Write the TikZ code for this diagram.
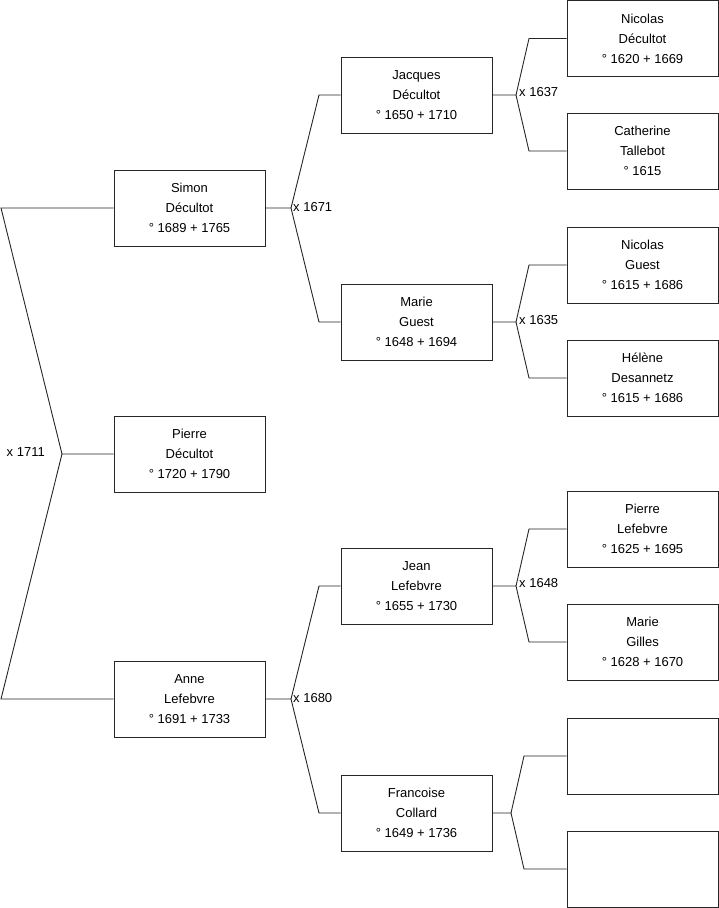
\documentclass[tikz,border=0pt]{standalone}
\usepackage{fontspec}
\setmainfont{Liberation Sans}
\begin{document}
\begin{tikzpicture}[x=1pt,y=-1pt,
  person/.style={draw=black!85, line width=0.9pt, minimum width=151pt, minimum height=76pt,
    align=center, font=\fontsize{13}{20}\selectfont, inner sep=0pt, text depth=0pt},
  link/.style={draw=black!85, line width=0.9pt},
  lab/.style={font=\fontsize{13}{15}\selectfont, inner sep=0pt}]
\useasboundingbox (0,0) rectangle (719,908);
% generation 1
\node[person] (pierre)  at (189.5,454) {Pierre\\Décultot\\° 1720 + 1790};
% generation 2
\node[person] (simon)   at (189.5,208) {Simon\\Décultot\\° 1689 + 1765};
\node[person] (anne)    at (189.5,699) {Anne\\Lefebvre\\° 1691 + 1733};
% generation 3
\node[person] (jacques) at (416.5,95)  {Jacques\\Décultot\\° 1650 + 1710};
\node[person] (marieg)  at (416.5,322) {Marie\\Guest\\° 1648 + 1694};
\node[person] (jean)    at (416.5,586) {Jean\\Lefebvre\\° 1655 + 1730};
\node[person] (francoise) at (416.5,813) {Francoise\\Collard\\° 1649 + 1736};
% generation 4
\node[person] (nicolasd) at (642.5,38.5) {Nicolas\\Décultot\\° 1620 + 1669};
\node[person] (catherine) at (642.5,151) {Catherine\\Tallebot\\° 1615};
\node[person] (nicolasg) at (642.5,265) {Nicolas\\Guest\\° 1615 + 1686};
\node[person] (helene)  at (642.5,378) {Hélène\\Desannetz\\° 1615 + 1686};
\node[person] (pierrel) at (642.5,529) {Pierre\\Lefebvre\\° 1625 + 1695};
\node[person] (mariegi) at (642.5,642) {Marie\\Gilles\\° 1628 + 1670};
\node[person] (empty1)  at (642.5,756) {};
\node[person] (empty2)  at (642.5,869) {};
% fork points and corners
\coordinate (f1711) at (62,454);
\coordinate (c1711a) at (1,208);
\coordinate (c1711b) at (1,699);
\coordinate (f1671) at (291,208);
\coordinate (c1671a) at (319,95);
\coordinate (c1671b) at (319,322);
\coordinate (f1680) at (291,699);
\coordinate (c1680a) at (319,586);
\coordinate (c1680b) at (319,813);
\coordinate (f1637) at (516,95);
\coordinate (c1637a) at (529,38.5);
\coordinate (c1637b) at (529,151);
\coordinate (f1635) at (516,322);
\coordinate (c1635a) at (529,265);
\coordinate (c1635b) at (529,378);
\coordinate (f1648) at (516,586);
\coordinate (c1648a) at (529,529);
\coordinate (c1648b) at (529,642);
\coordinate (fcol) at (511,813);
\coordinate (ccola) at (524,756);
\coordinate (ccolb) at (524,869);
% connectors
\draw[link] (pierre.west) -- (f1711) -- (c1711a) -- (simon.west);
\draw[link] (f1711) -- (c1711b) -- (anne.west);
\draw[link] (simon.east) -- (f1671) -- (c1671a) -- (jacques.west);
\draw[link] (f1671) -- (c1671b) -- (marieg.west);
\draw[link] (anne.east) -- (f1680) -- (c1680a) -- (jean.west);
\draw[link] (f1680) -- (c1680b) -- (francoise.west);
\draw[link] (jacques.east) -- (f1637) -- (c1637a) -- (nicolasd.west);
\draw[link] (f1637) -- (c1637b) -- (catherine.west);
\draw[link] (marieg.east) -- (f1635) -- (c1635a) -- (nicolasg.west);
\draw[link] (f1635) -- (c1635b) -- (helene.west);
\draw[link] (jean.east) -- (f1648) -- (c1648a) -- (pierrel.west);
\draw[link] (f1648) -- (c1648b) -- (mariegi.west);
\draw[link] (francoise.east) -- (fcol) -- (ccola) -- (empty1.west);
\draw[link] (fcol) -- (ccolb) -- (empty2.west);
% marriage labels
\node[lab, anchor=east] (l1711) at (45,452) {x 1711};
\node[lab, anchor=west] (l1671) at (293,207) {x 1671};
\node[lab, anchor=west] (l1680) at (293,698) {x 1680};
\node[lab, anchor=west] (l1637) at (519,92) {x 1637};
\node[lab, anchor=west] (l1635) at (519,320) {x 1635};
\node[lab, anchor=west] (l1648) at (519,583) {x 1648};
\end{tikzpicture}
\end{document}
